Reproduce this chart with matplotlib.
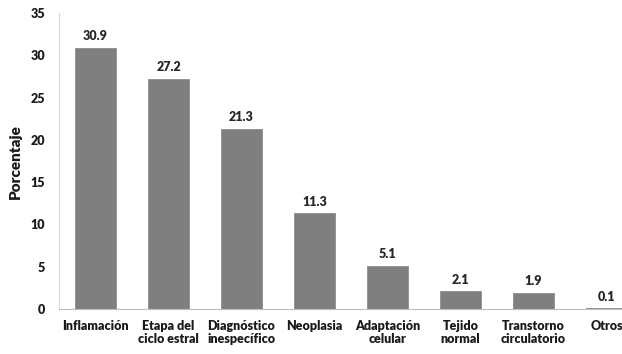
import matplotlib.pyplot as plt
import numpy as np

categorias = ["Inflamación", "Etapa del\nciclo estral", "Diagnóstico\ninespecífico",
              "Neoplasia", "Adaptación\ncelular", "Tejido\nnormal",
              "Transtorno\ncirculatorio", "Otros"]
porcentajes = [30.9, 27.2, 21.3, 11.3, 5.1, 2.1, 1.9, 0.1]
yticks = [0, 5, 10, 15, 20, 25, 30, 35]

plt.rcParams['font.family'] = ['Lato', 'DejaVu Sans']
plt.rcParams['font.weight'] = 'bold'

fig = plt.figure(figsize=(6.22, 3.54), dpi=100)
ax = fig.add_axes([0.0949, 0.127, 0.939, 0.836])

x = np.arange(len(categorias))
bars = ax.bar(x, porcentajes, width=0.56, color='#7f7f7f', edgecolor='#8c8c8c', linewidth=0.6)

for xi, v in zip(x, porcentajes):
    ax.annotate(f"{v:.1f}", (xi, v), xytext=(0, 4), textcoords='offset points',
                ha='center', va='bottom', fontsize=9, fontweight='heavy', color='#262626')

ax.set_xlim(-0.5, len(categorias) - 0.5)
ax.set_ylim(0, 35)
ax.set_yticks(yticks)
ax.set_xticks(x)
ax.set_xticklabels(categorias, fontsize=9, fontweight='heavy', color='#1a1a1a', linespacing=1.1)
ax.tick_params(axis='y', length=0, pad=10, labelsize=9, labelcolor='#1a1a1a')
ax.tick_params(axis='x', length=0, pad=8)
for t in ax.get_yticklabels():
    t.set_fontweight('heavy')
ax.set_ylabel("Porcentaje", fontsize=11, fontweight='heavy', labelpad=6, color='#1a1a1a')

for s in ['top', 'right']:
    ax.spines[s].set_visible(False)
ax.spines['left'].set_color('#d9d9d9')
ax.spines['bottom'].set_color('#bfbfbf')

fig.savefig("out.png", dpi=100)
